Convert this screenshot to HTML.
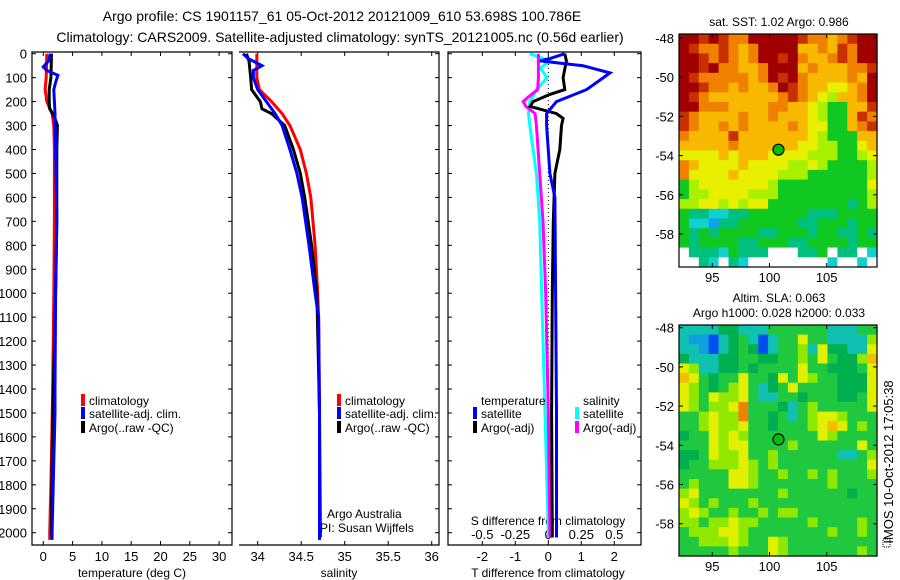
<!DOCTYPE html>
<html><head><meta charset="utf-8">
<style>
html,body{margin:0;padding:0;background:#fff;}
svg{display:block;font-family:"Liberation Sans",sans-serif;}
</style></head>
<body>
<svg id="fig" width="900" height="580" viewBox="0 0 900 580">
<text x="342" y="21" font-size="14" text-anchor="middle">Argo profile: CS 1901157_61 05-Oct-2012 20121009_610 53.698S 100.786E</text>
<text x="340" y="42" font-size="14" text-anchor="middle">Climatology: CARS2009. Satellite-adjusted climatology: synTS_20121005.nc (0.56d earlier)</text>
<g id="g1"></g>
<g id="g2"></g>
<g id="g3"></g>
<g id="m1"></g>
<g id="m2"></g>
<text x="779" y="26" font-size="12" text-anchor="middle">sat. SST: 1.02 Argo: 0.986</text>
<text x="779" y="302" font-size="12" text-anchor="middle">Altim. SLA: 0.063</text>
<text x="779" y="317" font-size="12" text-anchor="middle">Argo h1000: 0.028 h2000: 0.033</text>
<text transform="translate(893,462) rotate(-90)" font-size="13" text-anchor="middle">IMOS 10-Oct-2012 17:05:38</text>
<rect x="883" y="539" width="7" height="8" fill="none" stroke="#000" stroke-width="1" stroke-dasharray="1,1"/>
</svg>
<script>
// ---------- data ----------
const depthTicks=[0,100,200,300,400,500,600,700,800,900,1000,1100,1200,1300,1400,1500,1600,1700,1800,1900,2000];
const tempTicks=[0,5,10,15,20,25,30];
const salTicks=[34,34.5,35,35.5,36];
const salTickLabels=["34","34.5","35","35.5","36"];
const tdiffTicks=[-2,-1,0,1,2];
const sdiffTicks=[-0.5,-0.25,0,0.25,0.5];
const sdiffTickLabels=["-0.5","-0.25","0","0.25","0.5"];

const tClimDepth=[0,100,150,180,200,250,300,400,700,1000,1400,1800,2000,2030];
const tClim=[0.6,0.5,0.3,0.5,0.6,1.5,1.8,1.9,1.9,1.8,1.6,1.3,1.1,1.1];
const tSatDepth=[0,30,55,70,90,120,150,250,300,400,700,1000,1400,1500,1700,2000,2030];
const tSat=[1.2,0.9,0.0,0.6,2.5,2.1,1.8,2.0,2.0,2.1,2.3,2.1,2.0,2.0,1.8,1.5,1.5];
const tArgoDepth=[0,100,150,200,230,250,270,300,400,700,1000,1400,1700,2000,2020];
const tArgo=[1.4,1.3,1.0,1.0,1.1,1.6,2.0,2.4,2.3,2.3,2.1,1.7,1.5,1.4,1.4];

const sClimDepth=[0,100,150,200,250,300,400,500,600,800,1000,1100,1500,2000,2030];
const sClim=[33.99,33.99,34.02,34.16,34.28,34.37,34.49,34.56,34.61,34.66,34.69,34.70,34.71,34.71,34.71];
const sSatDepth=[0,20,50,70,100,150,200,250,300,400,500,600,800,1000,1100,1500,2000,2030];
const sSat=[33.83,33.89,34.05,33.95,33.95,34.0,34.10,34.20,34.28,34.37,34.45,34.51,34.59,34.66,34.70,34.71,34.71,34.71];
const sArgoDepth=[0,30,100,150,200,230,250,300,400,500,600,800,1000,1500,2000,2020];
const sArgo=[33.87,33.90,33.92,33.93,34.03,34.05,34.16,34.31,34.41,34.49,34.54,34.62,34.68,34.71,34.72,34.72];

const dTSatDepth=[0,20,30,50,80,110,150,200,250,300,500,600,1000,1500,2000,2020];
const dTSat=[0.5,0.05,-0.25,1.05,1.87,1.57,1.16,0.25,-0.05,-0.05,0.05,0.2,0.22,0.25,0.25,0.25];
const dTArgoDepth=[0,30,100,150,170,200,220,250,270,300,400,500,700,1000,1500,2000,2020];
const dTArgo=[0.5,0.55,0.45,0.5,0.05,-0.46,-0.55,0.25,0.45,0.4,0.35,0.2,0.15,0.12,0.1,0.12,0.12];
// salinity differences (psu); plotted on S axis (0.5 psu = 2 on T axis)
const dSSatDepth=[0,30,60,100,150,200,250,300,400,500,700,1000,1500,2000,2020];
const dSSat=[-0.14,0.01,-0.06,-0.01,-0.09,-0.14,-0.15,-0.14,-0.115,-0.09,-0.065,-0.05,-0.025,0,0];
const dSArgoDepth=[0,100,150,180,200,220,250,300,500,700,1000,1500,2000,2020];
const dSArgo=[-0.075,-0.075,-0.08,-0.15,-0.19,-0.17,-0.1,-0.09,-0.065,-0.04,-0.02,0,0.012,0.012];

const argoLon=100.786, argoLat=-53.698;
const lonTicks=[95,100,105];
const latTicks=[-48,-50,-52,-54,-56,-58];
// SST map grid (20 cols x 24 rows), colour level codes
const sstRows=[
"99a9a8899999a8878a99","9a88a87899997787a899","99a8a87899a98778a899","99a9887789997877788a",
"9a88888789a987777879","99a88787789a87766789","9a877777778a87657789","9988877778877654477a",
"a87777877877765447a8","a877878777787664478a","87777a77777776544477","77777877777766554467",
"66667677766665554456","87666676666556544445","86666766665554444445","45666666654444444446",
"45566665554444444445","55665656644444444345","43322334444443334444","42213344444433444344",
"43434444334443443343","43444433444334444344","03332433300033403302","00320320000000020020"];
const sstColors={"0":"#ffffff","1":"#10a0f0","2":"#10d0d0","3":"#00c080","4":"#10c820","5":"#a8f000","6":"#e8f000","7":"#f8b800","8":"#f08000","9":"#a00000","a":"#c83000"};
const slaRows=[
"33334433355555533355","32213453135575533336","33213454135563744337","43334455445565754468",
"76334454555575544457","87545575547576554447","76545675345755554447","76576675335545554457",
"76566795554356555557","55676695545356776555","55676675545556787565","45576765555555765555",
"55576775555655555575","44576675565555553356","45566676565555555557","55555776556556565556",
"56555776555555565555","67555555556555555455","76565556555555555555","67655655656655555555",
"66566766555556555565","56667765555555565565","55666765576555555555","55555655576555555565"];
const slaColors={"1":"#0050f0","2":"#10a0e0","3":"#10c0b0","4":"#00b050","5":"#20c840","6":"#90e800","7":"#e0f000","8":"#f0c000","9":"#f08000"};

// ---------- helpers ----------
const NS="http://www.w3.org/2000/svg";
function mk(parent,tag,attrs){const e=document.createElementNS(NS,tag);for(const k in attrs)e.setAttribute(k,attrs[k]);parent.appendChild(e);return e;}
const yDepth=d=>53.7+d*0.2395;
const TOP=52,BOT=545;
const xTemp=t=>43.3+t*5.86;
const xSal=s=>257.7+(s-34)*87;
const xTd=t=>548.3+t*33;
const xSd=s=>548.3+s*132;

function frame(g,x0,x1,left){
  const f=mk(g,'path',{d:`M${left?x0:x0} ${BOT} L${x1} ${BOT} L${x1} ${TOP} L${x0} ${TOP}`+(left?` Z`:''),fill:'none',stroke:'#000','stroke-width':1.2});
  
  
}
function depthTickMarks(g,x0,x1,labels){
  depthTicks.forEach(d=>{
    const y=yDepth(d);
    if(x0!==null)mk(g,'line',{x1:x0,y1:y,x2:x0+4,y2:y,stroke:'#000'});
    mk(g,'line',{x1:x1,y1:y,x2:x1-4,y2:y,stroke:'#000'});
    if(labels){const t=mk(g,'text',{x:27,y:y+5,'font-size':13,'text-anchor':'end'});t.textContent=d;
      
      }
  });
}
function xTicks(g,vals,labs,fx,yLab){
  vals.forEach((v,i)=>{const x=fx(v);
    mk(g,'line',{x1:x,y1:BOT,x2:x,y2:BOT-4,stroke:'#000'});
    mk(g,'line',{x1:x,y1:TOP,x2:x,y2:TOP+4,stroke:'#000'});
    const t=mk(g,'text',{x:x,y:yLab,'font-size':13,'text-anchor':'middle'});t.textContent=labs[i];
    
    
  });
}
function curve(g,depths,vals,fx,color,name,w){
  const p=depths.map((d,i)=>`${fx(vals[i]).toFixed(1)},${yDepth(d).toFixed(1)}`).join(' ');
  const e=mk(g,'polyline',{points:p,fill:'none',stroke:color,'stroke-width':w||3,'stroke-linejoin':'miter'});
  
  
}
function legend(g,x,y,color,label,name){
  mk(g,'rect',{x:x,y:y-11,width:4,height:12,fill:color});
  const t=mk(g,'text',{x:x+8,y:y,'font-size':12});t.textContent=label;
  
  
}
function clip(id,x,y,w,h){const s=document.getElementById('fig');const c=mk(s,'clipPath',{id:id});mk(c,'rect',{x:x,y:y,width:w,height:h});}

// ---------- panel 1 ----------
const g1=document.getElementById('g1');
clip('c1',32,TOP,200,BOT-TOP);clip('c2',239,TOP,200,BOT-TOP);clip('c3',448,TOP,193,BOT-TOP);
frame(g1,32,232,true);
depthTickMarks(g1,32,232,true);
xTicks(g1,tempTicks,tempTicks.map(String),xTemp,561);
{const t=mk(g1,'text',{x:132,y:577,'font-size':12,'text-anchor':'middle'});t.textContent='temperature (deg C)';
}
const c1=mk(g1,'g',{'clip-path':'url(#c1)'});
curve(c1,tClimDepth,tClim,xTemp,'#ff0000','temp-climatology-line');
curve(c1,tArgoDepth,tArgo,xTemp,'#000000','temp-argo-line');
curve(c1,tSatDepth,tSat,xTemp,'#0000ff','temp-satellite-line');
legend(g1,81,405,'#ff0000','climatology','legend-climatology');
legend(g1,81,418,'#0000ff','satellite-adj. clim.','legend-satellite');
legend(g1,81,432,'#000000','Argo(..raw -QC)','legend-argo');

// ---------- panel 2 ----------
const g2=document.getElementById('g2');
mk(g2,'path',{d:`M239 ${BOT} L439 ${BOT} L439 ${TOP} L239 ${TOP}`,fill:'none',stroke:'#000','stroke-width':1.2});
depthTickMarks(g2,null,439,false);
xTicks(g2,salTicks,salTickLabels,xSal,561);
{const t=mk(g2,'text',{x:339,y:577,'font-size':12,'text-anchor':'middle'});t.textContent='salinity';
}
const c2=mk(g2,'g',{'clip-path':'url(#c2)'});
curve(c2,sClimDepth,sClim,xSal,'#ff0000','sal-climatology-line');
curve(c2,sArgoDepth,sArgo,xSal,'#000000','sal-argo-line');
curve(c2,sSatDepth,sSat,xSal,'#0000ff','sal-satellite-line');
legend(g2,337,405,'#ff0000','climatology','legend-climatology');
legend(g2,337,418,'#0000ff','satellite-adj. clim.','legend-satellite');
legend(g2,337,432,'#000000','Argo(..raw -QC)','legend-argo');
{const t=mk(g2,'text',{x:327,y:518,'font-size':12});t.textContent='Argo Australia';

const u=mk(g2,'text',{x:320,y:532,'font-size':12});u.textContent='PI: Susan Wijffels';
}

// ---------- panel 3 ----------
const g3=document.getElementById('g3');
frame(g3,448,641,true);
depthTickMarks(g3,448,641,false);
xTicks(g3,tdiffTicks,tdiffTicks.map(String),xTd,561);
sdiffTicks.forEach((v,i)=>{const t=mk(g3,'text',{x:xSd(v),y:539,'font-size':13,'text-anchor':'middle'});t.textContent=sdiffTickLabels[i];
});
{const t=mk(g3,'text',{x:548,y:525,'font-size':12,'text-anchor':'middle'});t.textContent='S difference from climatology';

const u=mk(g3,'text',{x:548,y:577,'font-size':12,'text-anchor':'middle'});u.textContent='T difference from climatology';
}
const c3=mk(g3,'g',{'clip-path':'url(#c3)'});
mk(c3,'line',{x1:xTd(0),y1:TOP,x2:xTd(0),y2:BOT,stroke:'#000','stroke-dasharray':'1,3'});
curve(c3,dSSatDepth,dSSat,xSd,'#00ffff','sdiff-satellite-line');
curve(c3,dSArgoDepth,dSArgo,xSd,'#ff00ff','sdiff-argo-line');
curve(c3,dTArgoDepth,dTArgo,xTd,'#000000','tdiff-argo-line');
curve(c3,dTSatDepth,dTSat,xTd,'#0000ff','tdiff-satellite-line');
{const t=mk(g3,'text',{x:481,y:405,'font-size':12});t.textContent='temperature';

const u=mk(g3,'text',{x:583,y:405,'font-size':12});u.textContent='salinity';
}
legend(g3,473,418,'#0000ff','satellite','legend-t-satellite');
legend(g3,473,432,'#000000','Argo(-adj)','legend-t-argo');
legend(g3,575,418,'#00ffff','satellite','legend-s-satellite');
legend(g3,575,432,'#ff00ff','Argo(-adj)','legend-s-argo');

// ---------- maps ----------
const xLon=l=>679+(l-92.09)*11.44;
function drawMap(gid,rows,colors,yLat0,top,bot,cellName,markName){
  const g=document.getElementById(gid);
  const yLat=la=>yLat0+(-48-la)*19.6;
  const latTop=-48-(top-yLat0)/19.6, latBot=-48-(bot-yLat0)/19.6;
  const lonL=92.09, lonR=92.09+198/11.44;
  const nr=rows.length,nc=rows[0].length;
  const dLon=(lonR-lonL)/nc,dLat=(latTop-latBot)/nr;
  rows.forEach((row,r)=>{for(let c=0;c<nc;c++){
    const x=xLon(lonL+c*dLon),y=yLat(latTop-r*dLat);
    const e=mk(g,'rect',{x:x.toFixed(2),y:y.toFixed(2),width:(dLon*11.44+0.6).toFixed(2),height:(dLat*19.6+0.6).toFixed(2),fill:colors[row[c]]});
    
    
  }});
  mk(g,'rect',{x:679,y:top,width:198,height:bot-top,fill:'none',stroke:'#000','stroke-width':1.2});
  lonTicks.forEach(l=>{const x=xLon(l);
    mk(g,'line',{x1:x,y1:bot,x2:x,y2:bot-4,stroke:'#000'});mk(g,'line',{x1:x,y1:top,x2:x,y2:top+4,stroke:'#000'});
    const t=mk(g,'text',{x:x,y:bot+15,'font-size':13,'text-anchor':'middle'});t.textContent=l;
    });
  latTicks.forEach(la=>{const y=yLat(la);
    mk(g,'line',{x1:679,y1:y,x2:683,y2:y,stroke:'#000'});mk(g,'line',{x1:877,y1:y,x2:873,y2:y,stroke:'#000'});
    const t=mk(g,'text',{x:674,y:y+5,'font-size':13,'text-anchor':'end'});t.textContent=la;
    });
  const m=mk(g,'circle',{cx:xLon(argoLon),cy:yLat(argoLat),r:5.5,fill:'#00c000',stroke:'#000','stroke-width':1.2});
  
  
}
drawMap('m1',sstRows,sstColors,38,34,267,'sst-cell','argo-location-marker-sst');
drawMap('m2',slaRows,slaColors,327.7,325,556,'sla-cell','argo-location-marker-sla');
</script>
</body></html>
